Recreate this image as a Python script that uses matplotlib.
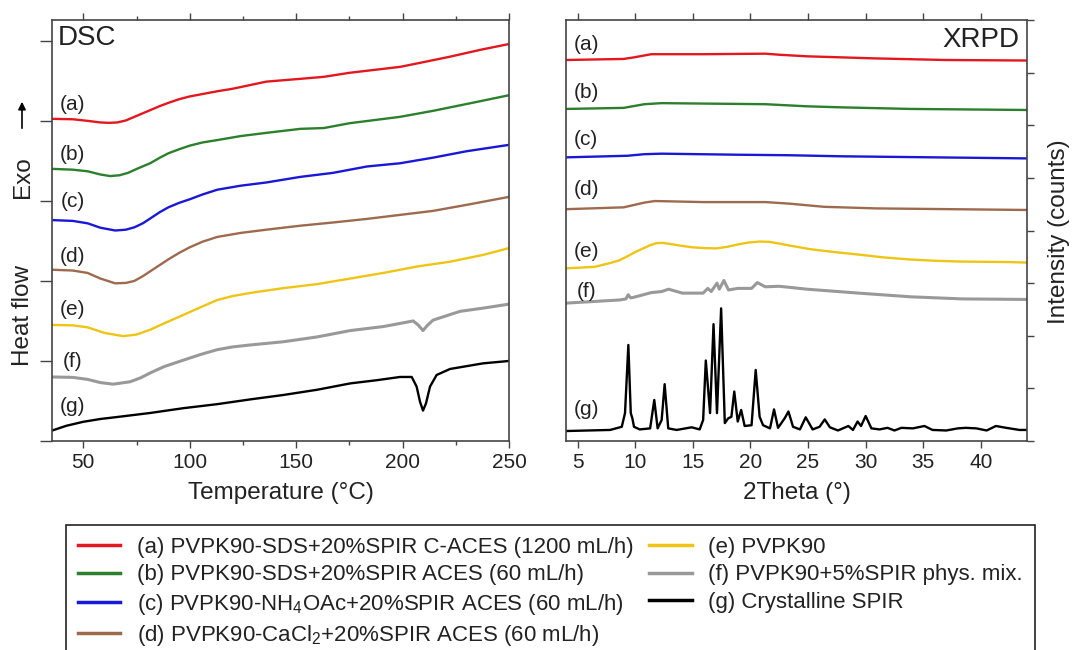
import matplotlib
matplotlib.use("Agg")
import matplotlib.pyplot as plt
from matplotlib.ticker import MultipleLocator

plt.rcParams["font.family"] = ["Liberation Sans", "DejaVu Sans"]
plt.rcParams["mathtext.fontset"] = "custom"
plt.rcParams["mathtext.rm"] = "Liberation Sans"
plt.rcParams["mathtext.default"] = "regular"

# ---- DSC (heat flow, arbitrary units, 1 unit per tick) ----
dsc_t_a = [35.3, 45, 52, 58, 62, 66, 70, 74, 78, 82, 86, 90, 95, 100, 106, 113, 120, 136, 152, 163, 175, 183,
           199, 211, 222, 237, 250]
dsc_a = [4.025, 4.02, 4.00, 3.98, 3.975, 3.98, 4.005, 4.05, 4.095, 4.14, 4.185, 4.225, 4.27, 4.305, 4.335, 4.37,
         4.40, 4.49, 4.525, 4.55, 4.60, 4.625, 4.675, 4.74, 4.80, 4.89, 4.96]

dsc_t_b = [35.3, 45, 52, 58, 62.6, 67, 71, 76, 81.4, 86, 90, 95, 100, 106, 113, 124, 136, 152, 163, 175, 198.8,
           214.3, 230, 250]
dsc_b = [3.40, 3.39, 3.37, 3.33, 3.31, 3.32, 3.35, 3.41, 3.47, 3.54, 3.595, 3.645, 3.69, 3.73, 3.76, 3.81, 3.85,
         3.90, 3.91, 3.97, 4.05, 4.125, 4.21, 4.32]

dsc_t_c = [35.3, 45, 52, 58, 65, 70, 74, 78, 82, 86, 90, 95, 100, 106, 113, 124, 136, 152, 167.3, 183.3, 198.8,
           214.3, 230, 250]
dsc_c = [2.76, 2.75, 2.72, 2.665, 2.63, 2.64, 2.67, 2.72, 2.79, 2.86, 2.92, 2.975, 3.02, 3.08, 3.14, 3.19, 3.23,
         3.30, 3.35, 3.43, 3.47, 3.54, 3.62, 3.70]

dsc_t_d = [35.3, 45, 52, 58, 65, 70, 74, 78, 82, 86, 90, 95, 100, 106, 113, 124, 136, 152, 167.3, 183.3, 198.8,
           214.3, 230, 250]
dsc_d = [2.14, 2.13, 2.10, 2.03, 1.97, 1.975, 2.00, 2.06, 2.13, 2.20, 2.27, 2.35, 2.42, 2.49, 2.55, 2.60, 2.64,
         2.69, 2.73, 2.775, 2.825, 2.875, 2.95, 3.05]

dsc_t_e = [35.3, 45, 52, 60, 68.7, 75, 81.4, 88, 97, 105, 112.8, 120, 128.5, 144, 159.8, 175.5, 191, 206.8, 222.3,
           237.8, 250]
dsc_e = [1.45, 1.445, 1.42, 1.35, 1.31, 1.33, 1.39, 1.47, 1.575, 1.67, 1.76, 1.81, 1.85, 1.91, 1.96, 2.03, 2.10,
         2.18, 2.24, 2.325, 2.41]

dsc_t_f = [35.3, 45, 52, 58, 64, 72, 77, 81.4, 88, 97, 105, 112.8, 120, 128.5, 144, 159.8, 175.5, 191, 205, 207.3,
           209.6, 211.5, 214.3, 227, 237.8, 250]
dsc_f = [0.80, 0.795, 0.77, 0.73, 0.71, 0.74, 0.79, 0.85, 0.93, 1.01, 1.08, 1.14, 1.175, 1.20, 1.24, 1.30, 1.38,
         1.43, 1.50, 1.45, 1.38, 1.44, 1.51, 1.62, 1.66, 1.71]

dsc_t_g = [35.3, 42, 50, 58, 66, 81.4, 97, 112.8, 128.5, 144, 159.8, 175.5, 188, 198.8, 204.3, 206.6, 208.2, 209.6,
           211, 212.9, 216, 222.3, 237.8, 250]
dsc_g = [0.13, 0.19, 0.24, 0.275, 0.30, 0.35, 0.41, 0.46, 0.52, 0.575, 0.64, 0.72, 0.76, 0.80, 0.80, 0.68, 0.49,
         0.38, 0.47, 0.68, 0.825, 0.90, 0.97, 1.00]

# ---- XRPD (intensity, arbitrary units, 1 unit per tick) ----
xrd_x_a = [4.0, 9.0, 9.9, 11.4, 15.9, 21.3, 22.5, 24.9, 30.9, 36.9, 44]
xrd_a = [7.24, 7.26, 7.29, 7.35, 7.35, 7.36, 7.34, 7.31, 7.27, 7.24, 7.23]

xrd_x_b = [4.0, 9.0, 10.8, 12.3, 21.3, 24.9, 27.9, 33.9, 44]
xrd_b = [6.31, 6.33, 6.40, 6.42, 6.40, 6.36, 6.34, 6.31, 6.29]

xrd_x_c = [4.0, 9.3, 10.8, 12.3, 18.9, 23.4, 27.9, 44]
xrd_c = [5.39, 5.42, 5.45, 5.46, 5.44, 5.43, 5.41, 5.37]

xrd_x_d = [4.0, 9.0, 10.8, 11.7, 15.9, 21.3, 23.4, 26.4, 30.9, 44]
xrd_d = [4.405, 4.44, 4.53, 4.56, 4.54, 4.54, 4.51, 4.45, 4.42, 4.39]

xrd_x_e = [4.0, 6.5, 7.8, 8.6, 9.24, 10.0, 10.7, 11.3, 11.85, 12.4, 13.0, 14.0, 15.0, 16.0, 17.05, 18.0, 18.8,
           19.8, 20.8, 21.6, 22.3, 23.5, 25.2, 27.3, 29.5, 31.5, 33.8, 36.0, 38.2, 42.5, 44]
xrd_e = [3.28, 3.31, 3.38, 3.43, 3.50, 3.59, 3.66, 3.72, 3.76, 3.765, 3.745, 3.71, 3.68, 3.665, 3.66, 3.69, 3.73,
         3.77, 3.79, 3.785, 3.76, 3.71, 3.645, 3.59, 3.54, 3.49, 3.45, 3.425, 3.41, 3.40, 3.39]

xrd_x_f = [4.0, 8.66, 9.2, 9.4, 9.6, 9.87, 11.4, 12.3, 12.9, 14.1, 15.9, 16.3, 16.6, 17.1, 17.3, 17.7, 18.1, 18.9,
           20.1, 20.6, 21.3, 22.5, 23.4, 24.9, 26.4, 29.4, 33.9, 38.4, 44]
xrd_f = [2.62, 2.68, 2.70, 2.78, 2.72, 2.73, 2.82, 2.84, 2.885, 2.81, 2.81, 2.90, 2.84, 3.00, 2.885, 3.05, 2.87, 2.90,
         2.90, 3.01, 2.93, 2.94, 2.92, 2.885, 2.86, 2.81, 2.74, 2.70, 2.69]

xrd_x_g = [4.08, 7.83, 8.84, 9.12, 9.41, 9.62, 9.76, 9.9, 10.4, 11.3, 11.66, 11.95, 12.3, 12.56, 12.87, 13.6, 14.9,
           15.6, 15.9, 16.13, 16.5, 16.8, 17.1, 17.46, 17.78, 18.07, 18.35, 18.6, 18.9, 19.2, 19.5, 20.1, 20.46,
           20.8, 21.1, 21.7, 22.05, 22.4, 22.97, 23.3, 23.7, 24.3, 24.8, 25.4, 26.0, 26.45, 26.9, 27.6, 28.5, 28.9,
           29.3, 29.6, 30.0, 30.5, 31.2, 31.9, 32.5, 33.1, 34.1, 35.1, 35.8, 37.0, 38.0, 38.7, 39.6, 40.5, 41.3,
           42.2, 43.35, 44]
xrd_g = [0.19, 0.21, 0.27, 0.53, 1.825, 0.53, 0.43, 0.27, 0.22, 0.24, 0.78, 0.24, 0.40, 1.08, 0.24, 0.21, 0.26,
         0.22, 0.40, 1.53, 0.53, 2.22, 0.53, 2.52, 0.34, 0.43, 0.46, 0.94, 0.37, 0.59, 0.285, 0.30, 1.35,
         0.46, 0.30, 0.24, 0.60, 0.25, 0.43, 0.56, 0.27, 0.22, 0.45, 0.22, 0.27, 0.41, 0.26, 0.20, 0.285, 0.21,
         0.37, 0.285, 0.475, 0.24, 0.22, 0.25, 0.20, 0.25, 0.24, 0.285, 0.21, 0.20, 0.24, 0.25, 0.24, 0.20, 0.285,
         0.25, 0.21, 0.21]

labels = ["(a) PVPK90-SDS+20%SPIR C-ACES (1200 mL/h)",
          "(b) PVPK90-SDS+20%SPIR ACES (60 mL/h)",
          r"(c) PVPK90-NH$_4$OAc+20%SPIR ACES (60 mL/h)",
          r"(d) PVPK90-CaCl$_2$+20%SPIR ACES (60 mL/h)",
          "(e) PVPK90",
          "(f) PVPK90+5%SPIR phys. mix.",
          "(g) Crystalline SPIR"]
letters = ["(a)", "(b)", "(c)", "(d)", "(e)", "(f)", "(g)"]
colors = ["#E3181E", "#2C7F2C", "#1818D6", "#9E6A4E", "#EEC514", "#999999", "#000000"]

dsc_t = [dsc_t_a, dsc_t_b, dsc_t_c, dsc_t_d, dsc_t_e, dsc_t_f, dsc_t_g]
dsc_y = [dsc_a, dsc_b, dsc_c, dsc_d, dsc_e, dsc_f, dsc_g]
xrd_x = [xrd_x_a, xrd_x_b, xrd_x_c, xrd_x_d, xrd_x_e, xrd_x_f, xrd_x_g]
xrd_y = [xrd_a, xrd_b, xrd_c, xrd_d, xrd_e, xrd_f, xrd_g]

# label positions (data coords) for the letters next to each curve
dsc_lab_y = [4.21, 3.575, 2.99, 2.30, 1.64, 0.99, 0.425]
xrd_lab_y = [7.53, 6.62, 5.72, 4.77, 3.61, 2.84, 0.59]

W, H = 1072, 650
fig = plt.figure(figsize=(W / 100, H / 100), dpi=100)
ax1 = fig.add_axes([52 / W, 1 - 441 / H, 457 / W, 421 / H])
ax2 = fig.add_axes([566 / W, 1 - 441 / H, 461 / W, 421 / H])

spine_c = "#444444"
lines = []
for i in range(7):
    lw = 2.2 if i == 5 else 1.7
    ln, = ax1.plot(dsc_t[i], dsc_y[i], color=colors[i], lw=lw, label=labels[i], solid_joinstyle="round")
    lines.append(ln)
    ax2.plot(xrd_x[i], xrd_y[i], color=colors[i], lw=lw, solid_joinstyle="round")
    ax1.text(45, dsc_lab_y[i], letters[i], fontsize=15, ha="center", va="center", color="#222222")
    ax2.text(5.75, xrd_lab_y[i], letters[i], fontsize=15, ha="center", va="center", color="#222222")

# DSC axes
ax1.set_xlim(35.3, 250)
ax1.set_ylim(0, 5.26)
ax1.xaxis.set_major_locator(MultipleLocator(50))
ax1.xaxis.set_minor_locator(MultipleLocator(25))
ax1.set_yticks(range(6))
ax1.tick_params(axis="x", which="both", direction="out", top=True, bottom=True,
                labelsize=15, pad=4, color=spine_c, labelcolor="#222222")
ax1.tick_params(axis="x", which="major", length=5, width=1)
ax1.tick_params(axis="x", which="minor", length=3, width=1)
ax1.tick_params(axis="y", direction="out", left=True, right=False, labelleft=False,
                length=9, width=1, color=spine_c)
ax1.set_xlabel("Temperature (°C)", fontsize=17.5, labelpad=7, color="#222222")
ax1.text(0.012, 0.957, "DSC", transform=ax1.transAxes, fontsize=20, ha="left", va="center", color="#222222")

# XRPD axes
ax2.set_xlim(4, 44)
ax2.set_ylim(0, 8)
ax2.xaxis.set_major_locator(MultipleLocator(5))
ax2.set_yticks(range(9))
ax2.tick_params(axis="x", direction="out", top=True, bottom=True, labelsize=15, pad=4,
                length=5, width=1, color=spine_c, labelcolor="#222222")
ax2.tick_params(axis="y", direction="out", left=False, right=True, labelleft=False, labelright=False,
                length=5, width=1, color=spine_c)
ax2.set_xlabel("2Theta (°)", fontsize=17.5, labelpad=7, color="#222222")
ax2.text(0.983, 0.952, "XRPD", transform=ax2.transAxes, fontsize=20, ha="right", va="center", color="#222222")

for ax in (ax1, ax2):
    for sp in ax.spines.values():
        sp.set_color(spine_c)
        sp.set_linewidth(1.2)

# y labels
fig.text(23 / W, 1 - 315 / H, "Heat flow", rotation=90, fontsize=17.5, ha="center", va="center", color="#222222")
fig.text(23 / W, 1 - 177 / H, "Exo", rotation=90, fontsize=17.5, ha="center", va="center", color="#222222")
fig.text(1059 / W, 1 - 232 / H, "Intensity (counts)", rotation=90, fontsize=17.5, ha="center", va="center",
         color="#222222")
fig.add_artist(matplotlib.patches.FancyArrowPatch((22 / W, 1 - 131 / H), (22 / W, 1 - 99 / H),
                                                  transform=fig.transFigure, arrowstyle="-|>",
                                                  mutation_scale=11, color="black", lw=1.2))

leg = fig.legend(handles=lines, loc="upper left", bbox_to_anchor=(66 / W, 1 - 525 / H),
                 bbox_transform=fig.transFigure, ncol=2, fontsize=16, frameon=True, fancybox=False,
                 edgecolor="#222222", framealpha=1, borderaxespad=0, borderpad=0.55,
                 handlelength=1.9, handletextpad=0.75, labelspacing=0.28, columnspacing=0.7)
leg.get_frame().set_linewidth(1.2)
for t in leg.get_texts():
    t.set_color("#222222")
for h in leg.legend_handles:
    h.set_linewidth(2.5)

fig.savefig("out.png", dpi=100)
